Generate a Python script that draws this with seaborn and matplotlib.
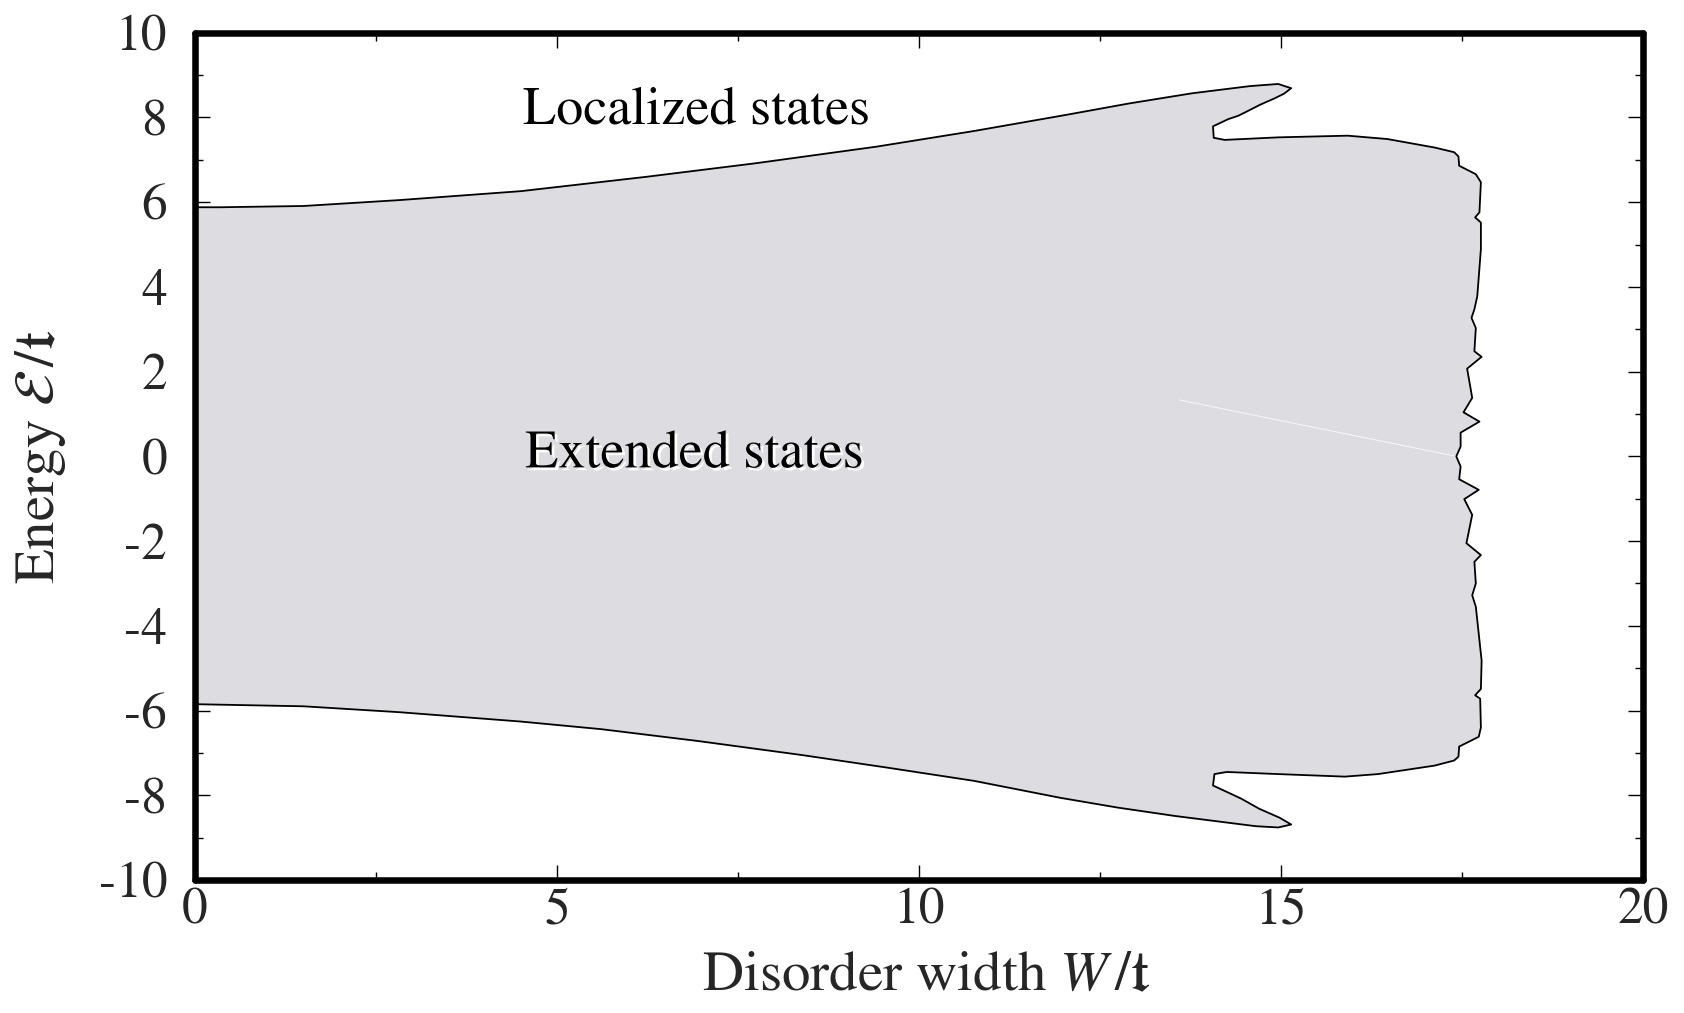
import numpy as np
import pandas as pd
import matplotlib
matplotlib.use("Agg")
import matplotlib.pyplot as plt
import matplotlib.patheffects as pe
from matplotlib.ticker import MultipleLocator
import seaborn as sns

# Mobility edge trajectory: upper branch (W=0 -> notch), right edge, lower branch back to W=0
W_edge = [0.0, 0.35, 1.5, 2.83, 4.5, 6.24, 7.75, 9.41, 10.76, 12.03, 12.9, 13.77,
          14.57, 14.96, 15.14, 15.04, 14.91, 14.71, 14.55, 14.41, 14.27,
          14.06, 14.07, 14.22, 14.96, 15.92, 16.47, 17.12, 17.39, 17.45, 17.46, 17.69,
          17.76, 17.74, 17.68, 17.76, 17.76, 17.71, 17.67, 17.63, 17.69, 17.67, 17.77,
          17.57, 17.64, 17.52, 17.74, 17.48, 17.48, 17.42,
          17.48, 17.46, 17.73, 17.53, 17.64, 17.56, 17.76, 17.67, 17.69, 17.64, 17.69,
          17.77, 17.76, 17.68, 17.75, 17.76, 17.73, 17.46, 17.45, 17.39, 17.12, 16.34,
          15.88, 14.96, 14.25, 14.08, 14.06, 14.25, 14.45, 14.70, 14.98, 15.14, 14.96,
          14.65, 13.54, 12.74, 11.95, 10.76, 9.57, 8.38, 6.95, 5.61, 4.5, 2.83, 1.5, 0.0]
E_edge = [5.88, 5.88, 5.91, 6.05, 6.26, 6.60, 6.92, 7.31, 7.68, 8.06, 8.33, 8.57,
          8.74, 8.79, 8.69, 8.56, 8.45, 8.30, 8.16, 8.04, 7.96,
          7.79, 7.52, 7.47, 7.53, 7.57, 7.49, 7.29, 7.18, 7.08, 6.86, 6.66,
          6.47, 5.76, 5.64, 5.52, 4.89, 3.78, 3.47, 3.27, 3.03, 2.48, 2.35,
          2.07, 1.38, 1.04, 0.82, 0.56, 0.23, 0.0,
          -0.24, -0.54, -0.79, -1.01, -1.38, -2.05, -2.33, -2.49, -3.0, -3.28, -3.55,
          -4.82, -5.49, -5.64, -5.72, -6.40, -6.62, -6.85, -7.09, -7.18, -7.30, -7.50,
          -7.56, -7.50, -7.45, -7.50, -7.77, -7.92, -8.08, -8.32, -8.53, -8.69, -8.76,
          -8.73, -8.49, -8.29, -8.06, -7.66, -7.35, -7.05, -6.72, -6.44, -6.26, -6.04, -5.9, -5.85]

# Faint seam inside the filled region
W_seam = [13.6, 17.42]
E_seam = [1.33, 0.0]

x_ticks = [0, 5, 10, 15, 20]
y_ticks = [-10, -8, -6, -4, -2, 0, 2, 4, 6, 8, 10]

sns.set_theme(style="ticks")
plt.rcParams["font.family"] = ["STIXGeneral", "DejaVu Serif"]
plt.rcParams["mathtext.fontset"] = "stix"
plt.rcParams["axes.unicode_minus"] = False

fig = plt.figure(figsize=(16.84, 10.13), dpi=100)
ax = fig.add_axes([0.1158, 0.1313, 0.8599, 0.8364])

df = pd.DataFrame({"W": W_edge, "E": E_edge})
ax.fill(df["W"], df["E"], color="#dddce0", lw=0, zorder=1)
sns.lineplot(data=df, x="W", y="E", sort=False, estimator=None, color="black",
             lw=1.3, ax=ax, zorder=3)
ax.plot(W_seam, E_seam, color="white", lw=0.7, alpha=0.8, zorder=2)

ax.set_xlim(0, 20)
ax.set_ylim(-10, 10)
ax.set_xticks(x_ticks)
ax.set_yticks(y_ticks)
ax.set_xticklabels([str(v) for v in x_ticks])
ax.set_yticklabels([str(v) for v in y_ticks])
ax.xaxis.set_minor_locator(MultipleLocator(2.5))
ax.yaxis.set_minor_locator(MultipleLocator(1))
ax.tick_params(which="both", direction="in", top=True, right=True,
               width=1.0, color="black")
ax.tick_params(which="major", length=11, labelsize=37, pad=6)
ax.tick_params(axis="y", which="major", pad=20)
ax.tick_params(which="minor", length=6)

for s in ax.spines.values():
    s.set_linewidth(4.7)
    s.set_color("black")
    s.set_capstyle("round")
    s.set_joinstyle("round")
    s.set_zorder(5)

ax.set_xlabel(r"Disorder width $W\,/\mathfrak{t}$", fontsize=41)
ax.set_ylabel(r"Energy $\mathcal{E}\,/\mathfrak{t}$", fontsize=41)
ax.xaxis.set_label_coords(0.505, -0.083)
ax.yaxis.set_label_coords(-0.088, 0.5)

ax.text(4.53, 7.86, "Localized states", fontsize=39, ha="left", va="baseline",
        color="black", zorder=4)
ax.text(4.56, -0.26, "Extended states", fontsize=39, ha="left", va="baseline",
        color="black", zorder=4,
        path_effects=[pe.SimplePatchShadow(offset=(2, -2), shadow_rgbFace="white",
                                           alpha=1.0), pe.Normal()])

fig.savefig("out.png", dpi=100, facecolor="white")
